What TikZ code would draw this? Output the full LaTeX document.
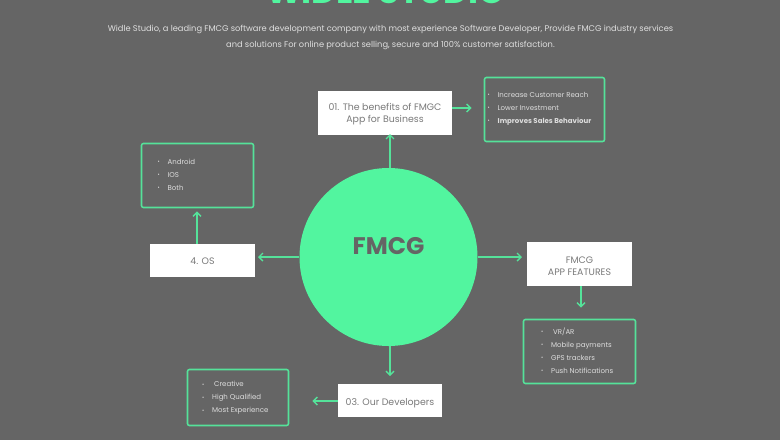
\documentclass[tikz,border=0pt]{standalone}
\usepackage{fontspec}
\usepackage{xcolor}
\setmainfont{Poppins}
\usetikzlibrary{arrows.meta}
\definecolor{bggray}{HTML}{656565}
\definecolor{mint}{HTML}{52F59F}
\definecolor{edgemint}{HTML}{55E29A}
\definecolor{boxtext}{HTML}{7A7A7A}
\definecolor{listtext}{HTML}{DEDEDE}
\tikzset{
  whitebox/.style={fill=white,text=boxtext,inner sep=0pt,align=center,font=\fontsize{9.4}{12}\selectfont},
  listbox/.style={draw=edgemint,line width=1.6pt,rounded corners=2pt,inner sep=0pt},
  listitems/.style={text=listtext,inner sep=0pt,anchor=west,align=left,font=\fontsize{7.0}{13}\selectfont},
  link/.style={draw=edgemint,line width=1.4pt,-{Straight Barb[length=4pt,width=8pt]}}
}
\newcommand{\bul}{\makebox[10pt][l]{\raisebox{0.6pt}{\scalebox{0.75}{\textbullet}}}}
\begin{document}
\begin{tikzpicture}[x=1pt,y=-1pt]
        \useasboundingbox (0,0) rectangle (780,440);
        \clip (0,0) rectangle (780,440);
        \fill[bggray] (0,0) rectangle (780,440);
        % heading
        \node(title) at (385.5,-8.5) {\textcolor{mint}{\fontsize{34}{36}\selectfont\bfseries WIDLE STUDIO}};
        \node(intro) at (390.5,37) [text=listtext,align=center,font=\fontsize{8.3}{16}\selectfont] {Widle Studio, a leading FMCG software development company with most experience Software Developer, Provide FMCG industry services\\and solutions For online product selling, secure and 100\% customer satisfaction.};
        % centre
        \node(fmcg) at (388.5,257) [circle,fill=mint,minimum size=178pt,inner sep=0pt,text=bggray,font=\fontsize{24}{26}\selectfont\bfseries] {\raisebox{22pt}{FMCG}};
        % white boxes
        \node(benefits) at (385,113) [whitebox,minimum width=134pt,minimum height=44pt] {\rule{0pt}{10pt}01. The benefits of FMGC\\App for Business};
        \node(os) at (202.5,260.5) [whitebox,minimum width=105pt,minimum height=33pt] {\rule{0pt}{9pt}4. OS};
        \node(features) at (579.5,264) [whitebox,minimum width=105pt,minimum height=44pt] {\rule{0pt}{11pt}FMCG\\APP FEATURES};
        \node(developers) at (390,400.5) [whitebox,minimum width=104pt,minimum height=33pt] {\rule{0pt}{12pt}03. Our Developers};
        % green boxes
        \node(benefitsbox) at (544.5,109.5) [listbox,minimum width=120pt,minimum height=64pt] {};
        \node(osbox) at (197.5,175.5) [listbox,minimum width=112pt,minimum height=64pt] {};
        \node(featuresbox) at (579.5,351.5) [listbox,minimum width=112pt,minimum height=64pt] {};
        \node(developersbox) at (238,397.5) [listbox,minimum width=101pt,minimum height=56pt] {};
        % lists
        \node(benefitslist) at (487.5,108.5) [listitems] {\bul Increase Customer Reach\\\bul Lower Investment\\\bul\textbf{Improves Sales Behaviour}};
        \node(oslist) at (157.5,174.5) [listitems] {\bul Android\\\bul IOS\\\bul Both};
        \node(featureslist) at (541,350.5) [listitems] {\bul\hspace{2pt}VR/AR\\\bul Mobile payments\\\bul GPS trackers\\\bul Push Notifications};
        \node(developerslist) at (202,398) [listitems] {\bul\hspace{2pt}Creative\\\bul High Qualified\\\bul Most Experience};
        % connectors
        \coordinate(benefitstip) at (390,134);
        \coordinate(ostip) at (258,257);
        \coordinate(featurestip) at (522,257);
        \coordinate(developerstip) at (390,376);
        \draw[link] (fmcg.north -| benefitstip) -- (benefitstip);
        \draw[link] (fmcg.west |- ostip) -- (ostip);
        \draw[link] (fmcg.east |- featurestip) -- (featurestip);
        \draw[link] (fmcg.south -| developerstip) -- (developerstip);
        \draw[link,shorten >=12pt] (benefits.east |- 0,108) -- (benefitsbox.west |- 0,108);
        \draw[link,shorten >=3pt] (os.north -| 197,0) -- (osbox.south -| 197,0);
        \draw[link,shorten >=11pt] (features.south -| 581,0) -- (featuresbox.north -| 581,0);
        \draw[link,shorten >=23pt] (developers.west |- 0,401) -- (developersbox.east |- 0,401);
\end{tikzpicture}
\end{document}
